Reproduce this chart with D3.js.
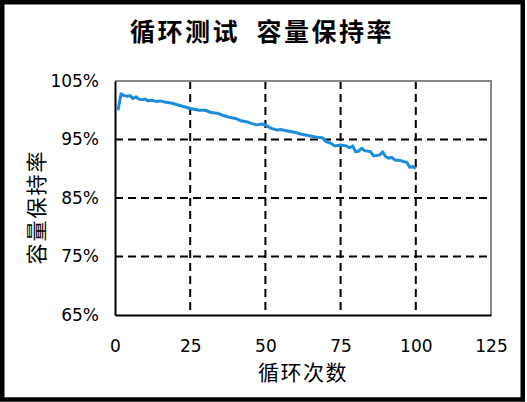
<!DOCTYPE html>
<html>
  <head>
    <meta charset="utf-8" />
    <title>循环测试 容量保持率</title>
    <script src="https://d3js.org/d3.v7.min.js"></script>
    <style>
      body { margin: 0; background: #fff; }
      svg { display: block; }
      .tick text { font-family: "DejaVu Sans", sans-serif; font-size: 17px; fill: #000; }
    </style>
  </head>
  <body>
    <div id="chart"></div>
    <script>
      // cycle number and capacity retention (%)
      var cycles = [1, 2, 3, 4, 5, 6, 7, 8, 9, 10, 11, 12, 13, 14, 15, 17, 19, 21, 23, 25,
        28, 30, 32, 34, 36, 38, 40, 42, 44, 45, 47, 49, 50, 52, 54, 55, 57, 60, 62, 65,
        67, 69, 70, 72, 73, 75, 77, 78, 79, 80, 81, 82, 83, 85, 86, 88, 89, 90, 91, 92,
        93, 95, 96, 97, 98, 99, 100];
      var retention = [100.0, 102.8, 102.5, 102.4, 102.5, 102.0, 102.3, 101.9, 101.8, 101.9,
        101.6, 101.7, 101.6, 101.5, 101.6, 101.35, 101.2, 100.9, 100.6, 100.3,
        100.0, 100.0, 99.6, 99.5, 99.1, 98.8, 98.6, 98.2, 98.0, 97.8, 97.5, 97.65, 97.45,
        96.9, 96.6, 96.7, 96.5, 96.2, 95.9, 95.6, 95.4, 95.3, 94.7, 94.3, 93.9, 94.05,
        93.9, 93.6, 93.9, 92.9, 93.0, 93.5, 93.1, 92.9, 92.2, 92.35, 92.9, 92.05, 91.8,
        91.95, 91.5, 91.4, 91.2, 91.1, 90.25, 90.4, 90.05];
      var xTicks = [0, 25, 50, 75, 100, 125];
      var yTicks = [65, 75, 85, 95, 105];
      var title = "循环测试  容量保持率";
      var xTitle = "循环次数";
      var yTitle = "容量保持率";

      var width = 527, height = 402;
      var margin = { top: 81, right: 36, bottom: 87, left: 115 };
      var w = width - margin.left - margin.right;
      var h = height - margin.top - margin.bottom;

      var svg = d3.select("#chart").append("svg")
        .attr("width", width)
        .attr("height", height);

      // outer frame
      svg.append("rect")
        .attr("x", 2.25).attr("y", 2.25)
        .attr("width", 520.5).attr("height", 397.25)
        .attr("fill", "#fff")
        .attr("stroke", "#000")
        .attr("stroke-width", 4.5);

      svg.append("text")
        .attr("x", 262).attr("y", 41)
        .attr("text-anchor", "middle")
        .style("font-family", "'Noto Sans CJK SC', sans-serif")
        .style("font-weight", "bold")
        .style("font-size", "25px")
        .style("letter-spacing", "2.5px")
        .style("white-space", "pre")
        .text(title);

      var g = svg.append("g")
        .attr("transform", "translate(" + margin.left + "," + margin.top + ")");

      var x = d3.scaleLinear().domain([0, 125]).range([0, w]);
      var y = d3.scaleLinear().domain([65, 105]).range([h, 0]);

      // dashed grid
      g.append("g").selectAll("line")
        .data(yTicks.filter(function (d) { return d > 65 && d < 105; }))
        .enter().append("line")
        .attr("x1", 0).attr("x2", w)
        .attr("y1", function (d) { return y(d); })
        .attr("y2", function (d) { return y(d); })
        .attr("stroke", "#000").attr("stroke-width", 2)
        .attr("stroke-dasharray", "8,5");

      g.append("g").selectAll("line")
        .data(xTicks.filter(function (d) { return d > 0 && d < 125; }))
        .enter().append("line")
        .attr("y1", 0).attr("y2", h)
        .attr("x1", function (d) { return x(d); })
        .attr("x2", function (d) { return x(d); })
        .attr("stroke", "#000").attr("stroke-width", 2)
        .attr("stroke-dasharray", "8,5");

      // top and right frame of plot area
      g.append("path")
        .attr("d", "M0,0H" + w + "V" + h)
        .attr("fill", "none")
        .attr("stroke", "#888")
        .attr("stroke-width", 2);

      var xAxis = g.append("g")
        .attr("transform", "translate(0," + h + ")")
        .call(d3.axisBottom(x).tickValues(xTicks).tickSize(0).tickPadding(25));
      xAxis.select(".domain").attr("stroke", "#000").attr("stroke-width", 2);

      var yAxis = g.append("g")
        .call(d3.axisLeft(y).tickValues(yTicks).tickSize(0).tickPadding(16)
          .tickFormat(function (d) { return d + "%"; }));
      yAxis.select(".domain").attr("stroke", "#000").attr("stroke-width", 2);

      var data = cycles.map(function (c, i) { return [c, retention[i]]; });

      g.append("path")
        .datum(data)
        .attr("fill", "none")
        .attr("stroke", "#1b8ddb")
        .attr("stroke-width", 3)
        .attr("stroke-linejoin", "round")
        .attr("d", d3.line()
          .x(function (d) { return x(d[0]); })
          .y(function (d) { return y(d[1]); }));

      svg.append("text")
        .attr("x", margin.left + x(62.5)).attr("y", 380)
        .attr("text-anchor", "middle")
        .style("font-family", "'Noto Sans CJK SC', sans-serif")
        .style("font-size", "21px")
        .style("letter-spacing", "1.5px")
        .text(xTitle);

      svg.append("text")
        .attr("transform", "translate(44,207) rotate(-90)")
        .attr("text-anchor", "middle")
        .style("font-family", "'Noto Sans CJK SC', sans-serif")
        .style("font-size", "21px")
        .style("letter-spacing", "2px")
        .text(yTitle);
    </script>
  </body>
</html>
